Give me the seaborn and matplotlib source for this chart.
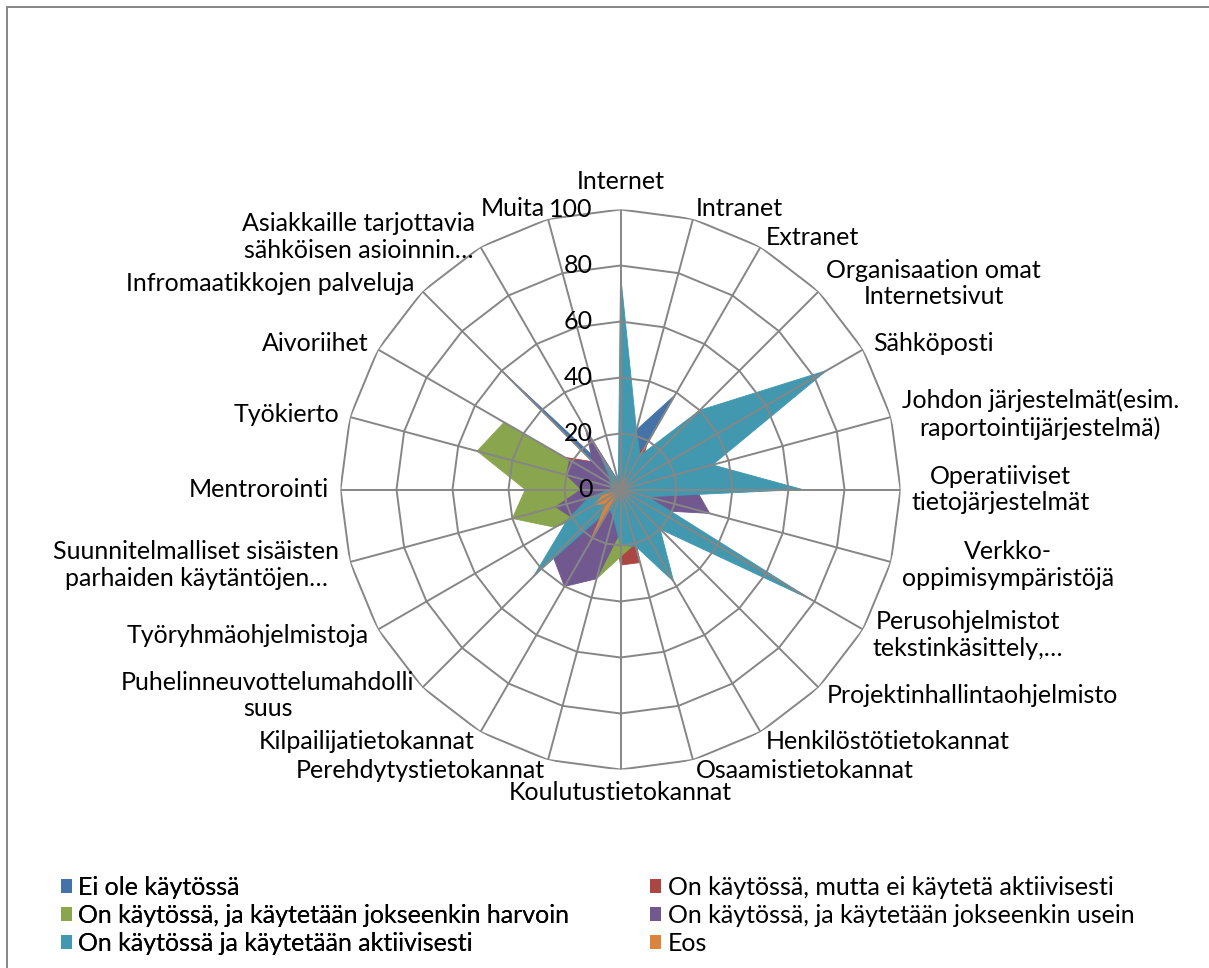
import numpy as np
import matplotlib
matplotlib.use("Agg")
import matplotlib.pyplot as plt
from matplotlib.patches import Patch, Rectangle
import seaborn as sns

categories = [
    "Internet", "Intranet", "Extranet", "Organisaation omat\nInternetsivut", "Sähköposti",
    "Johdon järjestelmät(esim.\nraportointijärjestelmä)", "Operatiiviset\ntietojärjestelmät",
    "Verkko-\noppimisympäristöjä", "Perusohjelmistot\ntekstinkäsittely,…",
    "Projektinhallintaohjelmisto", "Henkilöstötietokannat", "Osaamistietokannat",
    "Koulutustietokannat", "Perehdytystietokannat", "Kilpailijatietokannat",
    "Puhelinneuvottelumahdolli\nsuus", "Työryhmäohjelmistoja",
    "Suunnitelmalliset sisäisten\nparhaiden käytäntöjen…", "Mentrorointi", "Työkierto",
    "Aivoriihet", "Infromaatikkojen palveluja", "Asiakkaille tarjottavia\nsähköisen asioinnin…",
    "Muita",
]

series_names = [
    "Ei ole käytössä",
    "On käytössä, mutta ei käytetä aktiivisesti",
    "On käytössä, ja käytetään jokseenkin harvoin",
    "On käytössä, ja käytetään jokseenkin usein",
    "On käytössä ja käytetään aktiivisesti",
    "Eos",
]

ei_kaytossa = [2, 22, 39, 1, 0, 10, 0, 25, 0, 20, 10, 10, 6, 10, 10, 2, 10, 10, 25, 10, 0, 60, 7, 3]
ei_aktiivisesti = [3, 8, 19, 10, 1, 12, 2, 15, 1, 15, 5, 27, 27, 10, 5, 3, 10, 8, 20, 12, 23, 14, 20, 2]
harvoin = [3, 20, 12, 14, 3, 14, 4, 12, 3, 17, 15, 20, 24, 33, 14, 10, 27, 40, 34, 53, 48, 0, 20, 2]
usein = [15, 22, 10, 30, 10, 25, 27, 33, 15, 18, 25, 15, 15, 33, 40, 34, 20, 24, 14, 20, 21, 14, 25, 3]
aktiivisesti = [77, 22, 14, 40, 85, 34, 65, 10, 79, 20, 38, 21, 20, 10, 8, 44, 22, 12, 4, 3, 5, 5, 15, 3]
eos = [1, 6, 2, 1, 1, 1, 1, 1, 1, 2, 2, 2, 2, 1, 23, 7, 11, 6, 2, 1, 1, 1, 1, 1]

r_ticks = [0, 20, 40, 60, 80, 100]

colors = ["#4572A7", "#AA4643", "#89A54E", "#71588F", "#4198AF", "#DB843D"]
grid_color = "#868686"

sns.set_theme(style="white")
plt.rcParams["font.family"] = ["Lato", "DejaVu Sans"]
plt.rcParams["text.color"] = "black"
fs = 18

W, H = 1209, 968
fig = plt.figure(figsize=(W / 100, H / 100), dpi=100)
cx, cy, R = 620.5, 489.5, 280
ax = fig.add_axes([(cx - R) / W, (H - cy - R) / H, 2 * R / W, 2 * R / H], projection="polar")
ax.set_theta_zero_location("N")
ax.set_theta_direction(-1)
ax.set_ylim(0, 100)
ax.grid(False)
ax.spines["polar"].set_visible(False)
ax.set_xticks([])
ax.set_yticks([])
ax.patch.set_alpha(0)

n = len(categories)
theta = np.arange(n) * 2 * np.pi / n
theta_c = np.append(theta, theta[0])

all_series = [ei_kaytossa, ei_aktiivisesti, harvoin, usein, aktiivisesti, eos]
for vals, col in zip(all_series, colors):
    v = np.append(vals, vals[0])
    ax.fill(theta_c, v, color=col, linewidth=0.6, edgecolor=col, zorder=2)

# polygon grid and spokes on top of the fills
for lev in r_ticks[1:]:
    ax.plot(theta_c, [lev] * (n + 1), color=grid_color, lw=1.4, zorder=3)
for t in theta:
    ax.plot([t, t], [0, 100], color=grid_color, lw=1.4, zorder=3)

for lev in r_ticks:
    ax.annotate(str(lev), xy=(0, lev), xytext=(-20, 0), textcoords="offset points",
                ha="right", va="center", fontsize=fs, color="black", zorder=4)

for t, lab in zip(theta, categories):
    s = np.sin(t)
    c = np.cos(t)
    if abs(s) < 0.05:
        ha = "center"
        va = "bottom" if c > 0 else "top"
        r_lab = 106 if c > 0 else 104
    else:
        ha = "left" if s > 0 else "right"
        va = "center"
        r_lab = 104
    ax.text(t, r_lab, lab, ha=ha, va=va, fontsize=fs, multialignment="center",
            color="black", zorder=4)

handles = [Patch(facecolor=c, edgecolor="none") for c in colors]
leg_kw = dict(frameon=False, fontsize=fs, handlelength=0.45, handleheight=0.45,
              handletextpad=0.25, labelspacing=0.2, borderpad=0, borderaxespad=0,
              loc="upper left", labelcolor="black")
leg1 = fig.legend([handles[0], handles[2], handles[4]],
                  [series_names[0], series_names[2], series_names[4]],
                  bbox_to_anchor=(61 / W, 1 - 876 / H), **leg_kw)
fig.add_artist(leg1)
fig.legend([handles[1], handles[3], handles[5]],
           [series_names[1], series_names[3], series_names[5]],
           bbox_to_anchor=(650 / W, 1 - 876 / H), **leg_kw)

fig.add_artist(Rectangle((7 / W, -0.05), 1.2, 1.05 - 7 / H, transform=fig.transFigure,
                         fill=False, edgecolor=grid_color, lw=1.4))

fig.savefig("out.png", dpi=100, facecolor="white")
